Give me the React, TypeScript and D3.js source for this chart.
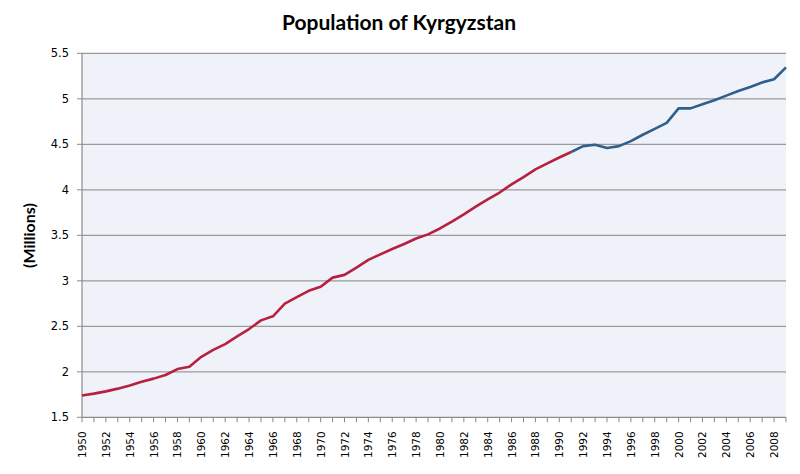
import React from "react";
import * as d3 from "d3";

const years: number[] = d3.range(1950, 2010);
const population: number[] = [
  1.74, 1.76, 1.785, 1.815, 1.85, 1.89, 1.925, 1.965, 2.03, 2.055,
  2.165, 2.24, 2.305, 2.39, 2.47, 2.565, 2.61, 2.75, 2.82, 2.89,
  2.935, 3.035, 3.065, 3.145, 3.23, 3.29, 3.35, 3.405, 3.465, 3.51,
  3.575, 3.65, 3.73, 3.815, 3.895, 3.97, 4.06, 4.14, 4.225, 4.29,
  4.355, 4.415, 4.48, 4.495, 4.46, 4.48, 4.535, 4.605, 4.67, 4.735,
  4.895, 4.895, 4.94, 4.985, 5.035, 5.085, 5.13, 5.18, 5.215, 5.345,
];
const yTicks: number[] = [1.5, 2, 2.5, 3, 3.5, 4, 4.5, 5, 5.5];
const splitYear = 1991;
const title = "Population of Kyrgyzstan";
const yLabel = "(Millions)";

export default function App() {
  const W = 800, H = 474;
  const left = 82, right = 786, top = 53.3, bottom = 417.3;
  const x = d3.scaleLinear().domain([1950, 2009]).range([left, right]);
  const y = d3.scaleLinear().domain([1.5, 5.5]).range([bottom, top]);
  const pts = years.map((yr, i) => ({ yr, v: population[i] }));
  const line = d3.line<{ yr: number; v: number }>().x(d => x(d.yr)).y(d => y(d.v));
  const red = pts.filter(p => p.yr <= splitYear);
  const blue = pts.filter(p => p.yr >= splitYear);
  const labelYears = years.filter(yr => (yr - 1950) % 2 === 0);
  const axisColor = "#8a8a8a";
  return (
    <svg width={W} height={H} style={{ position: "absolute", left: 0, top: 0, background: "#fff" }}>
      <rect x={left} y={top} width={right - left} height={bottom - top} fill="#eff3f9" />
      {yTicks.map(t => (
        <g key={t}>
          {t > 1.5 && (
            <line x1={left} x2={right} y1={y(t)} y2={y(t)} stroke="#9a9a9a" strokeWidth={1.2} />
          )}
          <line x1={left - 5} x2={left} y1={y(t)} y2={y(t)} stroke={axisColor} strokeWidth={1} />
          <text x={69} y={y(t)} dy="0.35em" textAnchor="end" fontFamily="DejaVu Sans" fontSize={11.5} fill="#000">
            {String(t)}
          </text>
        </g>
      ))}
      <line x1={left} x2={left} y1={top} y2={bottom} stroke={axisColor} strokeWidth={1.2} />
      <line x1={left} x2={right} y1={bottom} y2={bottom} stroke={axisColor} strokeWidth={1.2} />
      {years.map(yr => (
        <line key={yr} x1={x(yr)} x2={x(yr)} y1={bottom} y2={bottom + 5} stroke={axisColor} strokeWidth={1} />
      ))}
      {labelYears.map(yr => (
        <text key={yr} transform={`translate(${x(yr) + 4},${bottom + 14}) rotate(-90)`} textAnchor="end"
          fontFamily="DejaVu Sans" fontSize={10.5} fill="#000">
          {yr}
        </text>
      ))}
      <path d={line(red) || ""} fill="none" stroke="#b8203f" strokeWidth={2.6} strokeLinejoin="round" />
      <path d={line(blue) || ""} fill="none" stroke="#2f5f8c" strokeWidth={2.6} strokeLinejoin="round" />
      <text x={399} y={30} textAnchor="middle" fontFamily="Lato" fontWeight="bold" fontSize={21} fill="#000">
        {title}
      </text>
      <text transform={`translate(35,235.5) rotate(-90)`} textAnchor="middle" fontFamily="Lato" fontWeight="bold"
        fontSize={16} fill="#000">
        {yLabel}
      </text>
    </svg>
  );
}
